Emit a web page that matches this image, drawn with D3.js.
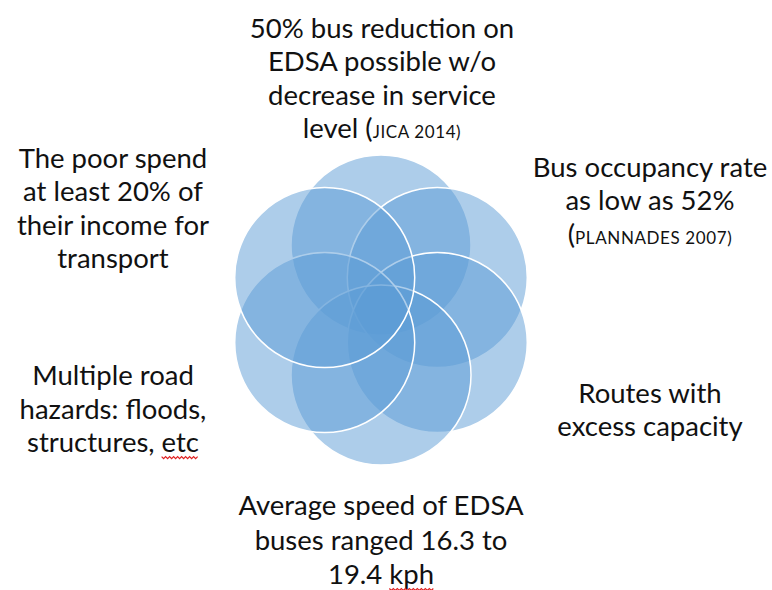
<!DOCTYPE html>
<html lang="en">
<head>
<meta charset="utf-8">
<title>Bus problems</title>
<script src="https://cdn.jsdelivr.net/npm/d3@7"></script>
<style>
  body { margin: 0; background: #fff; }
  svg text { font-family: Lato, "Open Sans", sans-serif; fill: #111; }
</style>
</head>
<body>
<div id="chart"></div>
<script>
// six overlapping circles, clockwise from the top (draw order matters for the white rims)
var circleAngles = [-90, -30, 30, 90, 150, 210];

// text blocks, one per circle; [text, small] segments per line
var topLines = [[["50% bus reduction on"]], [["EDSA possible w/o"]], [["decrease in service"]], [["level ("], ["JICA 2014)", 1]]];
var rightTopLines = [[["Bus occupancy rate"]], [["as low as 52%"]], [["("], ["PLANNADES 2007)", 1]]];
var rightBottomLines = [[["Routes with"]], [["excess capacity"]]];
var bottomLines = [[["Average speed of EDSA"]], [["buses ranged 16.3 to"]], [["19.4 "], ["kph", 2]]];
var leftBottomLines = [[["Multiple road"]], [["hazards: floods,"]], [["structures, "], ["etc", 2]]];
var leftTopLines = [[["The poor spend"]], [["at least 20% of"]], [["their income for"]], [["transport"]]];

var width = 772, height = 590;
var svg = d3.select("#chart").append("svg").attr("width", width).attr("height", height);

// unit coords -> pixels
var sx = d3.scaleLinear().domain([-1, 1]).range([381 - 65, 381 + 65]);
var sy = d3.scaleLinear().domain([-1, 1]).range([310 - 65, 310 + 65]);
var rad = 90;

svg.append("g").selectAll("circle")
  .data(circleAngles)
  .enter().append("circle")
  .attr("cx", function(a) { return sx(Math.cos(a * Math.PI / 180)); })
  .attr("cy", function(a) { return sy(Math.sin(a * Math.PI / 180)); })
  .attr("r", rad)
  .style("fill", "#5b9bd5")
  .style("fill-opacity", 0.5)
  .style("stroke", "#fff")
  .style("stroke-width", 1.5);

var blocks = [
  {lines: topLines, x: 382, y: 38, lh: 33.4},
  {lines: rightTopLines, x: 650, y: 177, lh: 33.4},
  {lines: rightBottomLines, x: 650, y: 403, lh: 33.4},
  {lines: bottomLines, x: 381, y: 515, lh: 34.5},
  {lines: leftBottomLines, x: 113, y: 385, lh: 33.6},
  {lines: leftTopLines, x: 113, y: 168, lh: 33.3}
];

blocks.forEach(function(b) {
  b.lines.forEach(function(segs, i) {
    var t = svg.append("text")
      .attr("x", b.x).attr("y", b.y + i * b.lh)
      .attr("text-anchor", "middle")
      .style("font-size", "27.5px");
    segs.forEach(function(s) {
      var ts = t.append("tspan").text(s[0]);
      if (s[1] === 1) ts.style("font-size", "17px").style("letter-spacing", "0.6px");
      if (s[1] === 2) ts.attr("class", "spell");
    });
  });
});

// red spell-check squiggles
svg.selectAll("tspan.spell").each(function() {
  var node = this;
  var textNode = node.parentNode;
  var full = textNode.textContent;
  var start = full.lastIndexOf(node.textContent);
  var x0 = textNode.getStartPositionOfChar(start).x;
  var x1 = textNode.getEndPositionOfChar(full.length - 1).x;
  var y = +textNode.getAttribute("y") + 5;
  var pts = [];
  for (var x = x0, k = 0; x <= x1; x += 2, k++) pts.push([x, y + (k % 2 ? 1.5 : -0.5)]);
  svg.append("path").attr("d", d3.line()(pts))
    .style("fill", "none").style("stroke", "#e02020").style("stroke-width", 1.2);
});
</script>
</body>
</html>
